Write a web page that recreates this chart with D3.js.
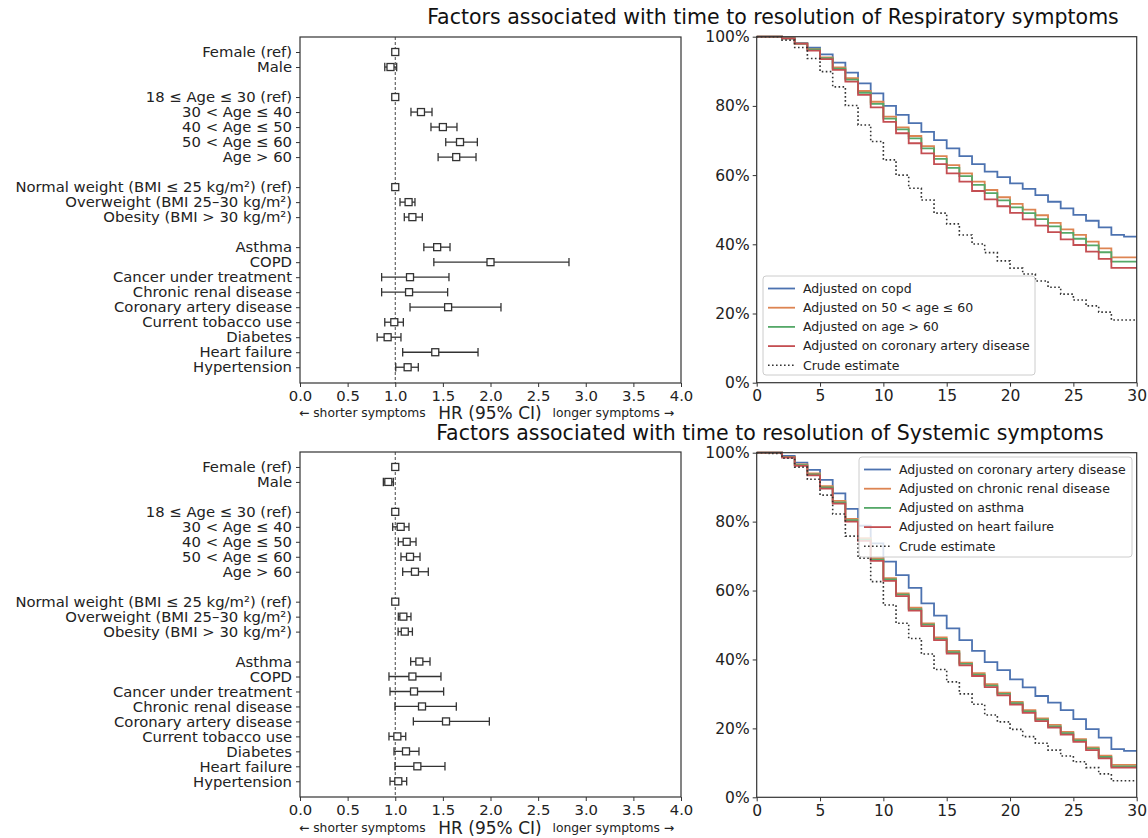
<!DOCTYPE html>
<html>
<head>
<meta charset="utf-8">
<script src="https://cdn.jsdelivr.net/npm/d3@7"></script>
<style>
  body { margin: 0; background: #fff; }
  svg { display: block; font-family: "DejaVu Sans", sans-serif; }
  .tick text { fill: #222; }
</style>
</head>
<body>
<div id="chart"></div>
<script>
// ---- forest plot data ----
const factors = ["Female (ref)", "Male", "", "18 \u2264 Age \u2264 30 (ref)", "30 < Age \u2264 40", "40 < Age \u2264 50",
  "50 < Age \u2264 60", "Age > 60", "", "Normal weight (BMI \u2264 25 kg/m\u00b2) (ref)", "Overweight (BMI 25\u201330 kg/m\u00b2)",
  "Obesity (BMI > 30 kg/m\u00b2)", "", "Asthma", "COPD", "Cancer under treatment", "Chronic renal disease",
  "Coronary artery disease", "Current tobacco use", "Diabetes", "Heart failure", "Hypertension"];

const respHR =   [1, 0.95, null, 1, 1.27, 1.50, 1.68, 1.64, null, 1, 1.14, 1.18, null, 1.44, 2.00, 1.155, 1.145, 1.555, 0.99, 0.92, 1.42, 1.13];
const respLow =  [1, 0.89, null, 1, 1.165, 1.375, 1.53, 1.45, null, 1, 1.05, 1.095, null, 1.30, 1.405, 0.857, 0.857, 1.155, 0.89, 0.81, 1.078, 1.005];
const respHigh = [1, 1.015, null, 1, 1.386, 1.648, 1.862, 1.848, null, 1, 1.207, 1.284, null, 1.575, 2.824, 1.564, 1.55, 2.11, 1.085, 1.06, 1.869, 1.242];

const sysHR =    [1, 0.927, null, 1, 1.057, 1.12, 1.155, 1.207, null, 1, 1.085, 1.10, null, 1.253, 1.18, 1.197, 1.281, 1.533, 1.022, 1.113, 1.232, 1.032];
const sysLow =   [1, 0.875, null, 1, 0.973, 1.032, 1.06, 1.078, null, 1, 1.032, 1.03, null, 1.162, 0.934, 0.945, 0.997, 1.19, 0.934, 0.987, 0.997, 0.945];
const sysHigh =  [1, 0.98, null, 1, 1.144, 1.218, 1.26, 1.347, null, 1, 1.165, 1.18, null, 1.365, 1.48, 1.508, 1.641, 1.988, 1.11, 1.249, 1.522, 1.12];

const hrTicks = [0, 0.5, 1, 1.5, 2, 2.5, 3, 3.5, 4];

// ---- survival curves (value held from each day to the next) ----
const days = d3.range(0, 31);

const respLabels = ["Adjusted on copd", "Adjusted on 50 < age \u2264 60", "Adjusted on age > 60",
  "Adjusted on coronary artery disease", "Crude estimate"];
const respCopd = [1, 1, 0.995, 0.981, 0.968, 0.949, 0.925, 0.896, 0.865, 0.836, 0.800, 0.774, 0.750, 0.725, 0.701,
  0.677, 0.655, 0.632, 0.610, 0.594, 0.576, 0.560, 0.542, 0.523, 0.504, 0.485, 0.468, 0.449, 0.427, 0.422, 0.422];
const respAge50 = [1, 1, 0.995, 0.980, 0.964, 0.940, 0.911, 0.880, 0.843, 0.812, 0.769, 0.738, 0.713, 0.684, 0.655,
  0.629, 0.605, 0.581, 0.557, 0.536, 0.517, 0.500, 0.484, 0.462, 0.443, 0.427, 0.408, 0.388, 0.362, 0.362, 0.362];
const respAge60 = [1, 1, 0.995, 0.980, 0.963, 0.938, 0.908, 0.876, 0.838, 0.806, 0.763, 0.732, 0.706, 0.677, 0.647,
  0.621, 0.597, 0.572, 0.548, 0.527, 0.507, 0.490, 0.473, 0.452, 0.433, 0.416, 0.397, 0.377, 0.350, 0.350, 0.350];
const respCad = [1, 1, 0.995, 0.980, 0.960, 0.935, 0.904, 0.870, 0.832, 0.796, 0.754, 0.721, 0.692, 0.663, 0.632,
  0.605, 0.581, 0.554, 0.530, 0.510, 0.491, 0.472, 0.454, 0.435, 0.414, 0.398, 0.379, 0.358, 0.332, 0.332, 0.332];
const respCrude = [1, 1, 0.990, 0.969, 0.937, 0.899, 0.855, 0.801, 0.745, 0.697, 0.644, 0.600, 0.562, 0.528, 0.490,
  0.459, 0.427, 0.401, 0.376, 0.352, 0.331, 0.314, 0.294, 0.276, 0.256, 0.239, 0.222, 0.204, 0.181, 0.181, 0.181];

const sysLabels = ["Adjusted on coronary artery disease", "Adjusted on chronic renal disease", "Adjusted on asthma",
  "Adjusted on heart failure", "Crude estimate"];
const sysCad = [1, 1, 0.991, 0.971, 0.950, 0.921, 0.882, 0.837, 0.788, 0.737, 0.684, 0.645, 0.608, 0.563, 0.527,
  0.490, 0.456, 0.425, 0.392, 0.369, 0.342, 0.319, 0.294, 0.275, 0.253, 0.227, 0.198, 0.173, 0.140, 0.135, 0.135];
const sysRenal = [1, 1, 0.988, 0.966, 0.940, 0.903, 0.860, 0.808, 0.752, 0.694, 0.636, 0.592, 0.550, 0.505, 0.464,
  0.425, 0.391, 0.360, 0.328, 0.304, 0.277, 0.253, 0.229, 0.210, 0.190, 0.169, 0.145, 0.121, 0.094, 0.094, 0.094];
const sysAsthma = [1, 1, 0.987, 0.964, 0.937, 0.899, 0.856, 0.804, 0.748, 0.690, 0.632, 0.588, 0.546, 0.501, 0.460,
  0.421, 0.387, 0.356, 0.324, 0.300, 0.273, 0.249, 0.225, 0.206, 0.186, 0.165, 0.141, 0.117, 0.090, 0.090, 0.090];
const sysHf = [1, 1, 0.986, 0.962, 0.934, 0.896, 0.852, 0.800, 0.744, 0.686, 0.628, 0.584, 0.542, 0.497, 0.456,
  0.417, 0.383, 0.352, 0.320, 0.296, 0.269, 0.245, 0.221, 0.202, 0.182, 0.161, 0.137, 0.113, 0.086, 0.086, 0.086];
const sysCrude = [1, 0.998, 0.984, 0.958, 0.923, 0.877, 0.822, 0.758, 0.694, 0.626, 0.558, 0.505, 0.461, 0.416, 0.371,
  0.335, 0.300, 0.270, 0.239, 0.219, 0.197, 0.176, 0.157, 0.137, 0.120, 0.103, 0.086, 0.068, 0.048, 0.048, 0.048];

const curveColors = ["#4c72b0", "#dd8452", "#55a868", "#c44e52", "#333333"];
const pctTicks = [0, 0.2, 0.4, 0.6, 0.8, 1];
const dayTicks = [0, 5, 10, 15, 20, 25, 30];

const W = 1148, H = 838;
const svg = d3.select("#chart").append("svg").attr("width", W).attr("height", H);
svg.append("rect").attr("width", W).attr("height", H).attr("fill", "#fff");

const axisColor = "#333";

function frame(g, x0, x1, y0, y1) {
  g.append("rect").attr("x", x0).attr("y", y0).attr("width", x1 - x0).attr("height", y1 - y0)
    .attr("fill", "none").attr("stroke", axisColor).attr("stroke-width", 1.2);
}

function styleAxis(sel, size) {
  sel.select(".domain").remove();
  sel.selectAll(".tick line").attr("stroke", axisColor).attr("stroke-width", 1);
  sel.selectAll(".tick text").attr("font-size", size).attr("font-family", "DejaVu Sans");
}

function drawForest(top, bottom, hr, low, high, labelY) {
  const g = svg.append("g");
  const x = d3.scaleLinear().domain([0, 4]).range([300, 681]);
  const y = d3.scaleLinear().domain([-1, 22.05]).range([top, bottom]);

  const xa = g.append("g").attr("transform", `translate(0,${bottom})`)
    .call(d3.axisBottom(x).tickValues(hrTicks).tickFormat(d3.format(".1f")).tickSize(4).tickPadding(3.5));
  styleAxis(xa, 14.8);

  const rows = factors.map((f, i) => ({ f, i })).filter(d => d.f !== "");
  const ya = g.append("g").attr("transform", "translate(300,0)")
    .call(d3.axisLeft(y).tickValues(rows.map(d => d.i)).tickFormat(i => factors[i]).tickSize(4).tickPadding(4));
  styleAxis(ya, 14.8);

  // reference line at HR = 1
  g.append("line").attr("x1", x(1)).attr("x2", x(1)).attr("y1", top).attr("y2", bottom)
    .attr("stroke", "#444").attr("stroke-width", 1).attr("stroke-dasharray", "3,2");

  const pts = rows.map(d => ({ i: d.i, hr: hr[d.i], lo: low[d.i], hi: high[d.i] }));
  const ci = pts.filter(d => d.hi > d.lo);
  const eb = g.selectAll(".eb").data(ci).enter().append("g").attr("stroke", "#333").attr("stroke-width", 1.3);
  eb.append("line").attr("x1", d => x(d.lo)).attr("x2", d => x(d.hi)).attr("y1", d => y(d.i)).attr("y2", d => y(d.i));
  eb.append("line").attr("x1", d => x(d.lo)).attr("x2", d => x(d.lo)).attr("y1", d => y(d.i) - 4.2).attr("y2", d => y(d.i) + 4.2);
  eb.append("line").attr("x1", d => x(d.hi)).attr("x2", d => x(d.hi)).attr("y1", d => y(d.i) - 4.2).attr("y2", d => y(d.i) + 4.2);

  g.selectAll(".sq").data(pts).enter().append("rect")
    .attr("x", d => x(d.hr) - 3.5).attr("y", d => y(d.i) - 3.5).attr("width", 7).attr("height", 7)
    .attr("fill", "#fff").attr("stroke", "#333").attr("stroke-width", 1.3);

  frame(g, 300, 681, top, bottom);

  g.append("text").attr("x", 299).attr("y", labelY).attr("font-size", 12.3).attr("fill", "#222")
    .text("\u2190 shorter symptoms");
  g.append("text").attr("x", 490).attr("y", labelY + 2).attr("text-anchor", "middle").attr("font-size", 17).attr("fill", "#222")
    .text("HR (95% CI)");
  g.append("text").attr("x", 674).attr("y", labelY).attr("text-anchor", "end").attr("font-size", 12.3).attr("fill", "#222")
    .text("longer symptoms \u2192");
}

function drawKM(top, bottom, series, labels, legendBox) {
  const g = svg.append("g");
  const x = d3.scaleLinear().domain([0, 30]).range([756.7, 1136.7]);
  const y = d3.scaleLinear().domain([0, 1]).range([bottom, top]);

  const xa = g.append("g").attr("transform", `translate(0,${bottom})`)
    .call(d3.axisBottom(x).tickValues(dayTicks).tickSize(4).tickPadding(3.5));
  styleAxis(xa, 15.5);
  const ya = g.append("g").attr("transform", "translate(756.7,0)")
    .call(d3.axisLeft(y).tickValues(pctTicks).tickFormat(d3.format(".0%")).tickSize(4).tickPadding(3));
  styleAxis(ya, 15.5);

  const line = d3.line().x((d, i) => x(days[i])).y(d => y(d)).curve(d3.curveStepAfter);
  series.forEach((s, k) => {
    g.append("path").datum(s).attr("d", line).attr("fill", "none")
      .attr("stroke", curveColors[k]).attr("stroke-width", k === 4 ? 1.6 : 1.8)
      .attr("stroke-dasharray", k === 4 ? "1.6,2.4" : null);
  });

  frame(g, 756.7, 1136.7, top, bottom);

  // legend
  const lg = g.append("g");
  lg.append("rect").attr("x", legendBox.x).attr("y", legendBox.y).attr("width", legendBox.w).attr("height", legendBox.h)
    .attr("rx", 3).attr("fill", "#fff").attr("fill-opacity", 0.8).attr("stroke", "#ccc").attr("stroke-width", 1);
  labels.forEach((lab, k) => {
    const yy = legendBox.y + 12.5 + k * 19.2;
    lg.append("line").attr("x1", legendBox.x + 5).attr("x2", legendBox.x + 32).attr("y1", yy).attr("y2", yy)
      .attr("stroke", curveColors[k]).attr("stroke-width", k === 4 ? 1.6 : 1.8)
      .attr("stroke-dasharray", k === 4 ? "1.6,2.4" : null);
    lg.append("text").attr("x", legendBox.x + 40).attr("y", yy).attr("dy", "0.35em")
      .attr("font-size", 12.5).attr("fill", "#222").text(lab);
  });
}

// titles
svg.append("text").attr("x", 773).attr("y", 24).attr("text-anchor", "middle").attr("font-size", 20.5).attr("fill", "#111")
  .text("Factors associated with time to resolution of Respiratory symptoms");
svg.append("text").attr("x", 770).attr("y", 440).attr("text-anchor", "middle").attr("font-size", 20.5).attr("fill", "#111")
  .text("Factors associated with time to resolution of Systemic symptoms");

drawForest(37, 383, respHR, respLow, respHigh, 417);
drawForest(452, 797, sysHR, sysLow, sysHigh, 832);

drawKM(36.7, 382.7, [respCopd, respAge50, respAge60, respCad, respCrude], respLabels,
  { x: 763, y: 276, w: 272, h: 99 });
drawKM(452.7, 797.3, [sysCad, sysRenal, sysAsthma, sysHf, sysCrude], sysLabels,
  { x: 859, y: 457, w: 273, h: 100 });
</script>
</body>
</html>
